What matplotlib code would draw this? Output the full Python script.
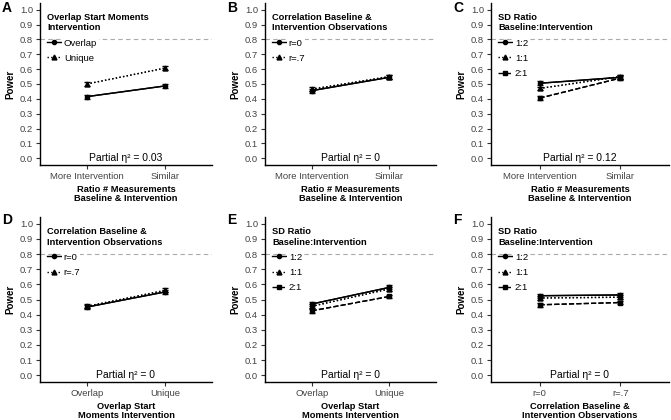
import numpy as np
import matplotlib.pyplot as plt

plt.rcParams['font.family'] = ['Liberation Sans', 'DejaVu Sans']
plt.rcParams['font.size'] = 7

W, H = 671, 420

# x categories per panel
x_ratio = ['More Intervention', 'Similar']
x_overlap = ['Overlap', 'Unique']
x_corr = ['r=0', 'r=.7']

xlab_ratio = 'Ratio # Measurements\nBaseline & Intervention'
xlab_overlap = 'Overlap Start\nMoments Intervention'
xlab_corr = 'Correlation Baseline &\nIntervention Observations'

leg_overlap = 'Overlap Start Moments\nIntervention'
leg_corr = 'Correlation Baseline &\nIntervention Observations'
leg_sd = 'SD Ratio\nBaseline:Intervention'

lab_overlap = ['Overlap', 'Unique']
lab_corr = ['r=0', 'r=.7']
lab_sd = ['1:2', '1:1', '2:1']

# panel A
a_vals = [[0.415, 0.487], [0.500, 0.607]]
# panel B
b_vals = [[0.455, 0.545], [0.465, 0.550]]
# panel C
c_vals = [[0.505, 0.545], [0.470, 0.550], [0.405, 0.540]]
# panel D
d_vals = [[0.450, 0.550], [0.455, 0.560]]
# panel E
e_vals = [[0.470, 0.580], [0.455, 0.570], [0.425, 0.520]]
# panel F
f_vals = [[0.525, 0.530], [0.510, 0.515], [0.465, 0.480]]

err = 0.013
eta = ['0.03', '0', '0.12', '0', '0', '0']

styles = [('-', 'o', 3), (':', '^', 3.5), ('--', 's', 3)]

panels = [
    ('A', x_ratio, xlab_ratio, leg_overlap, lab_overlap, a_vals),
    ('B', x_ratio, xlab_ratio, leg_corr, lab_corr, b_vals),
    ('C', x_ratio, xlab_ratio, leg_sd, lab_sd, c_vals),
    ('D', x_overlap, xlab_overlap, leg_corr, lab_corr, d_vals),
    ('E', x_overlap, xlab_overlap, leg_sd, lab_sd, e_vals),
    ('F', x_corr, xlab_corr, leg_sd, lab_sd, f_vals),
]

# axes boxes in pixels (left, top, right, bottom)
cols = [(40, 212), (265, 436), (491, 669)]
rows = [(3, 165), (217, 382)]
letter_y = [7.5, 220]

fig = plt.figure(figsize=(W / 100, H / 100), dpi=100)

for i, (letter, xcats, xlab, legtitle, labs, vals) in enumerate(panels):
    c0, c1 = cols[i % 3]
    r0, r1 = rows[i // 3]
    ax = fig.add_axes([c0 / W, 1 - r1 / H, (c1 - c0) / W, (r1 - r0) / H])
    x = np.arange(1, len(xcats) + 1)
    handles = []
    for j, v in enumerate(vals):
        ls, mk, ms = styles[j]
        ax.errorbar(x, v, yerr=err, color='black', ls=ls, lw=1, capsize=2.5,
                    elinewidth=1, capthick=1, zorder=3)
        h, = ax.plot(x, v, ls=ls, marker=mk, ms=ms, color='black', lw=1, zorder=4)
        handles.append(h)
    ax.axhline(0.8, color='#aaaaaa', ls=(0, (4, 3)), lw=0.8, zorder=1)
    ax.set_xlim(0.4, 2.6)
    ax.set_ylim(-0.045, 1.045)
    ax.set_yticks(np.round(np.arange(0, 1.01, 0.1), 1))
    ax.set_yticklabels(['%.1f' % t for t in np.arange(0, 1.01, 0.1)])
    ax.set_xticks(x)
    ax.set_xticklabels(xcats)
    ax.tick_params(length=3, width=0.8, colors='#333333', labelcolor='#444444',
                   labelsize=6.8, pad=2)
    for s in ['top', 'right']:
        ax.spines[s].set_visible(False)
    for s in ['left', 'bottom']:
        ax.spines[s].set_linewidth(1)
    ax.set_ylabel('Power', fontweight='bold', fontsize=7, labelpad=3)
    ax.set_xlabel(xlab, fontweight='bold', fontsize=6.7, labelpad=3, linespacing=1.05)
    ax.text(1.5, 0.0, 'Partial η² = ' + eta[i], ha='center', va='center',
            fontsize=7.5, color='black')
    leg = ax.legend(handles, labs, title=legtitle, loc='upper left',
                    bbox_to_anchor=(0.015, 0.965), frameon=False, fontsize=6.8,
                    title_fontproperties={'weight': 'bold', 'size': 6.7},
                    handlelength=1.4, handletextpad=0.35, labelspacing=0.65,
                    borderpad=0.5, borderaxespad=0)
    leg._legend_box.align = 'left'
    leg.get_title().set_linespacing(1.15)
    for t in leg.get_texts():
        t.set_bbox(dict(facecolor='white', edgecolor='none', pad=1.5))
    leg.set_zorder(2)
    fig.text((c0 - 38) / W, 1 - letter_y[i // 3] / H, letter, fontweight='bold',
             fontsize=10, ha='left', va='center')

fig.savefig('out.png', dpi=100)
